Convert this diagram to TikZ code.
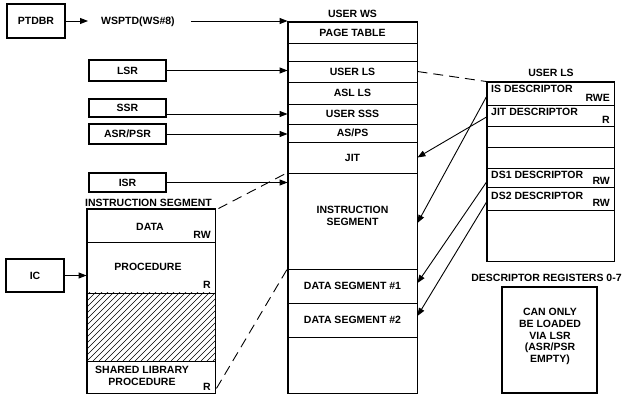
\documentclass[tikz,border=0pt]{standalone}
\usepackage{fontspec}
\setmainfont{Liberation Sans}
\usetikzlibrary{arrows.meta,calc}
\begin{document}
\begin{tikzpicture}[x=1pt,y=-1pt,
  font=\fontsize{10.5}{11.7}\selectfont\bfseries,
  lbl/.style={inner sep=0pt, text height=7.6pt, text depth=0pt},
  regbox/.style={draw, line width=1.2pt, inner sep=0pt, text height=7.6pt, text depth=0pt},
  wsrow/.style={draw, line width=0.9pt, inner sep=0pt, minimum width=129pt, text height=7.6pt, text depth=0pt},
  lsrow/.style={draw, line width=0.9pt, inner sep=0pt, minimum width=127pt},
  isrow/.style={draw, line width=0.9pt, inner sep=0pt, minimum width=128pt},
  outer/.style={draw, line width=1.2pt},
  conn/.style={line width=0.9pt, -{Triangle[length=8pt,width=6pt]}},
  dashconn/.style={line width=0.9pt, dash pattern=on 10pt off 6pt}]
\useasboundingbox (0,0) rectangle (623,395);

% registers on the left
\node[regbox, minimum width=58pt, minimum height=34pt] (ptdbr) at (36,21) {PTDBR};
\node[lbl, anchor=west] (wsptd) at (101,21) {WSPTD(WS\#8)};
\node[regbox, minimum width=77pt, minimum height=21pt] (lsr) at (127.5,70.5) {LSR};
\node[regbox, minimum width=77pt, minimum height=18pt] (ssr) at (127.5,108) {SSR};
\node[regbox, minimum width=77pt, minimum height=20pt] (asr) at (127.5,134) {ASR/PSR};
\node[regbox, minimum width=77pt, minimum height=19pt] (isr) at (127.5,182.5) {ISR};
\node[regbox, minimum width=58pt, minimum height=33pt] (ic) at (35,275.5) {IC};

% USER WS
\node[lbl] (wslabel) at (352.5,14) {USER WS};
\node[wsrow, minimum height=21pt] (pt) at (352.5,32.5) {PAGE TABLE};
\node[wsrow, minimum height=18pt] (wsb1) at (352.5,52) {};
\node[wsrow, minimum height=21pt] (uls) at (352.5,71.5) {USER LS};
\node[wsrow, minimum height=22pt] (asl) at (352.5,93) {ASL LS};
\node[wsrow, minimum height=20pt] (usss) at (352.5,114) {USER SSS};
\node[wsrow, minimum height=18pt] (asps) at (352.5,133) {AS/PS};
\node[wsrow, minimum height=31pt] (jit) at (352.5,157.5) {JIT};
\node[wsrow, minimum height=96pt] (is) at (352.5,221) {};
\node[inner sep=0pt, align=center, anchor=north] (istext) at (352.5,206.3) {INSTRUCTION\\SEGMENT};
\node[wsrow, minimum height=34pt] (ds1) at (352.5,286) {DATA SEGMENT \#1};
\node[wsrow, minimum height=34pt] (ds2) at (352.5,320) {DATA SEGMENT \#2};
\node[wsrow, minimum height=56pt] (wsb2) at (352.5,365) {};
\draw[outer] (pt.north west) rectangle (wsb2.south east);

% USER LS (right)
\node[lbl] (lslabel) at (551,73) {USER LS};
\node[lsrow, minimum height=23pt] (isd) at (550.5,93.5) {};
\node[lsrow, minimum height=21pt] (jitd) at (550.5,115.5) {};
\node[lsrow, minimum height=21pt] (rb1) at (550.5,136.5) {};
\node[lsrow, minimum height=21pt] (rb2) at (550.5,157.5) {};
\node[lsrow, minimum height=19pt] (ds1d) at (550.5,177.5) {};
\node[lsrow, minimum height=23pt] (ds2d) at (550.5,198.5) {};
\node[lsrow, minimum height=51pt] (rb3) at (550.5,235.5) {};
\draw[outer] (isd.north west) rectangle (rb3.south east);
\node[lbl, anchor=west] (isdt) at (491,89) {IS DESCRIPTOR};
\node[lbl, anchor=east] (isdr) at (610,98) {RWE};
\node[lbl, anchor=west] (jitdt) at (491,112) {JIT DESCRIPTOR};
\node[lbl, anchor=east] (jitdr) at (610,120) {R};
\node[lbl, anchor=west] (ds1dt) at (491,175) {DS1 DESCRIPTOR};
\node[lbl, anchor=east] (ds1dr) at (610,181) {RW};
\node[lbl, anchor=west] (ds2dt) at (491,196) {DS2 DESCRIPTOR};
\node[lbl, anchor=east] (ds2dr) at (610,203) {RW};

% INSTRUCTION SEGMENT (left)
\node[lbl] (islabel) at (148.5,203) {INSTRUCTION SEGMENT};
\node[isrow, minimum height=33pt] (data) at (151,225.5) {};
\node[isrow, minimum height=51pt] (proc) at (151,267.5) {};
\node[isrow, minimum height=68pt] (hatch) at (151,327) {};
\node[isrow, minimum height=32pt] (shared) at (151,377) {};
\begin{scope}
  \clip (hatch.north west) rectangle (hatch.south east);
  \foreach \i in {-75,-69,...,219} \draw[line width=0.5pt] (\i,361) -- ++(72,-72);
\end{scope}
\draw[outer] (data.north west) rectangle (shared.south east);
\node[lbl] (datat) at (150,227) {DATA};
\node[lbl, anchor=east] (datar) at (211,235) {RW};
\node[lbl] (proct) at (148,267) {PROCEDURE};
\node[lbl, anchor=east] (procr) at (211,285) {R};
\node[inner sep=0pt, align=center, anchor=north] (sharedt) at (142,366.3) {SHARED LIBRARY\\PROCEDURE};
\node[lbl, anchor=east] (sharedr) at (211,387) {R};

% Descriptor registers
\node[lbl] (drlabel) at (546.5,278) {DESCRIPTOR REGISTERS 0-7};
\node[draw, line width=1.2pt, minimum width=95pt, minimum height=106pt, inner sep=0pt] (drbox) at (549.5,340) {};
\node[inner sep=0pt, align=center, anchor=north] (drtext) at (550,308.3) {CAN ONLY\\BE LOADED\\VIA LSR\\(ASR/PSR\\EMPTY)};

% connectors
\draw[conn, shorten >=13pt] (ptdbr.east) -- (wsptd.west);
\draw[conn, shorten <=16pt] (wsptd.east) -- (wsptd.east -| pt.west);
\draw[conn] (lsr.east) -- (lsr.east -| uls.west);
\draw[conn] (ssr.east |- usss.west) -- (usss.west);
\draw[conn] (asr.east) -- (asr.east -| asps.west);
\draw[conn] (isr.east) -- (isr.east -| is.west);
\draw[conn] (ic.east) -- (ic.east -| proc.west);

\draw[dashconn] (uls.east) -- (isd.north west);
\draw[dashconn] ($(data.north east)+(3,0)$) -- (is.north west);
\draw[dashconn] ($(shared.south east)+(1,-5)$) -- (ds1.north west);

\draw[conn] ($(isd.west)+(0,3)$) -- ($(is.east)+(0,2)$);
\draw[conn] ($(jitd.west)+(0,1.5)$) -- (jit.east);
\draw[conn] ($(ds1d.west)+(0,4.5)$) -- ($(ds1.east)+(0,-3)$);
\draw[conn] ($(ds2d.west)+(0,3.5)$) -- ($(ds2.east)+(0,-4)$);
\end{tikzpicture}
\end{document}
